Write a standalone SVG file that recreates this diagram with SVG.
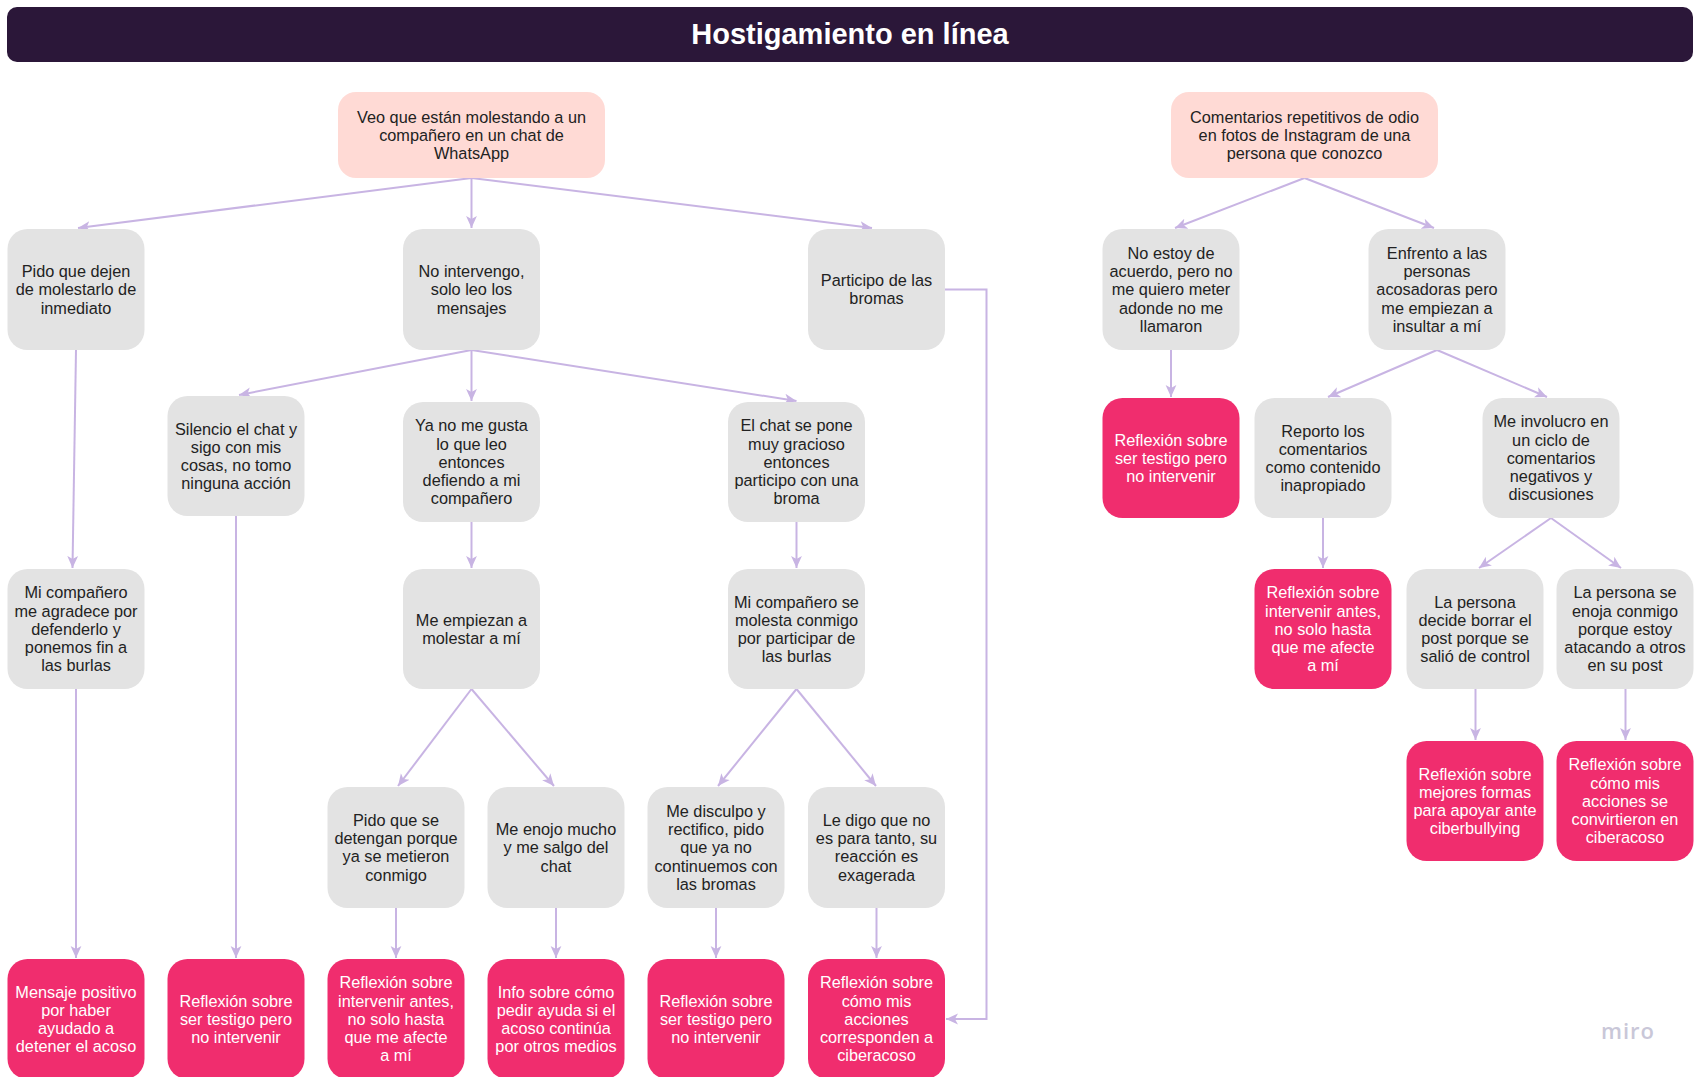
<svg xmlns="http://www.w3.org/2000/svg" width="1701" height="1077" viewBox="0 0 1701 1077">
  <defs>
    <marker id="arrow" markerUnits="userSpaceOnUse" markerWidth="12" markerHeight="12" viewBox="0 0 10 10" refX="10" refY="5" orient="auto">
      <path d="M0,0.5 L10,5 L0,9.5 L2.6,5 Z" fill="#C8B4E3"/>
    </marker>
  </defs>
  <style>
    .title { font-family: "Liberation Sans", Arial, sans-serif; font-size: 29px; font-weight: bold; fill: #ffffff; text-anchor: middle; }
    .lbl { font-family: "Liberation Sans", Arial, sans-serif; font-size: 16.3px; text-anchor: middle; fill: #222222; }
    .lbl-w { font-family: "Liberation Sans", Arial, sans-serif; font-size: 16.3px; text-anchor: middle; fill: #ffffff; }
    .start { fill: #FFDAD5; }
    .step { fill: #E3E3E3; }
    .result { fill: #F02D6E; }
    .conn { fill: none; stroke: #C8B4E3; stroke-width: 2; marker-end: url(#arrow); }
    .conn-plain { fill: none; stroke: #C8B4E3; stroke-width: 2; }
    .brand { font-family: "Open Sans", "Noto Sans", sans-serif; font-size: 22px; font-weight: 600; fill: #C9C7D8; letter-spacing: 1px; }
  </style>

  <rect width="1701" height="1077" fill="#ffffff"/>

  <!-- Title bar -->
  <g id="header">
    <rect x="7" y="7" width="1686" height="55" rx="10" fill="#2B1739"/>
    <text class="title" x="850" y="44">Hostigamiento en línea</text>
  </g>

  <!-- Connectors -->
  <g id="connectors">
    <!-- WhatsApp branch -->
    <line class="conn" x1="471.5" y1="178" x2="78" y2="228"/>
    <line class="conn" x1="471.5" y1="178" x2="471.5" y2="228"/>
    <line class="conn" x1="471.5" y1="178" x2="872" y2="228"/>
    <path class="conn" d="M945,289.5 H986.5 V1019 H946"/>
    <line class="conn" x1="76" y1="350" x2="72.5" y2="568"/>
    <line class="conn" x1="76" y1="689" x2="76" y2="958"/>
    <line class="conn" x1="471.5" y1="350" x2="239" y2="395"/>
    <line class="conn" x1="471.5" y1="350" x2="471.5" y2="401"/>
    <line class="conn" x1="471.5" y1="350" x2="796.5" y2="401"/>
    <line class="conn" x1="236" y1="516" x2="236" y2="958"/>
    <line class="conn" x1="471.5" y1="522" x2="471.5" y2="568"/>
    <line class="conn" x1="471.5" y1="689" x2="398" y2="786"/>
    <line class="conn" x1="471.5" y1="689" x2="554" y2="786"/>
    <line class="conn" x1="396" y1="908" x2="396" y2="958"/>
    <line class="conn" x1="556" y1="908" x2="556" y2="958"/>
    <line class="conn" x1="796.5" y1="522" x2="796.5" y2="568"/>
    <line class="conn" x1="796.5" y1="689" x2="718" y2="786"/>
    <line class="conn" x1="796.5" y1="689" x2="876" y2="786"/>
    <line class="conn" x1="716" y1="908" x2="716" y2="958"/>
    <line class="conn" x1="876.5" y1="908" x2="876.5" y2="958"/>
    <!-- Instagram branch -->
    <line class="conn" x1="1304.5" y1="178" x2="1175" y2="228"/>
    <line class="conn" x1="1304.5" y1="178" x2="1434" y2="228"/>
    <line class="conn" x1="1171" y1="350" x2="1171" y2="397"/>
    <line class="conn" x1="1437" y1="350" x2="1328" y2="397"/>
    <line class="conn" x1="1437" y1="350" x2="1547" y2="397"/>
    <line class="conn" x1="1323" y1="518" x2="1323" y2="568"/>
    <line class="conn" x1="1551" y1="518" x2="1479" y2="568"/>
    <line class="conn" x1="1551" y1="518" x2="1621" y2="568"/>
    <line class="conn" x1="1475.5" y1="689" x2="1475.5" y2="740"/>
    <line class="conn" x1="1625.5" y1="689" x2="1625.5" y2="740"/>
  </g>

  <!-- WhatsApp scenario -->
  <g id="n-veo">
    <rect class="start" x="338" y="92" width="267" height="86" rx="18"/>
    <text class="lbl" x="471.5" y="122.6"><tspan x="471.5">Veo que están molestando a un</tspan><tspan x="471.5" dy="18.2">compañero en un chat de</tspan><tspan x="471.5" dy="18.2">WhatsApp</tspan></text>
  </g>
  <g id="n-pido-dejen">
    <rect class="step" x="7.5" y="229" width="137" height="121" rx="20"/>
    <text class="lbl" x="76" y="277.1"><tspan x="76">Pido que dejen</tspan><tspan x="76" dy="18.2">de molestarlo de</tspan><tspan x="76" dy="18.2">inmediato</tspan></text>
  </g>
  <g id="n-no-intervengo">
    <rect class="step" x="403" y="229" width="137" height="121" rx="20"/>
    <text class="lbl" x="471.5" y="277.1"><tspan x="471.5">No intervengo,</tspan><tspan x="471.5" dy="18.2">solo leo los</tspan><tspan x="471.5" dy="18.2">mensajes</tspan></text>
  </g>
  <g id="n-participo">
    <rect class="step" x="808" y="229" width="137" height="121" rx="20"/>
    <text class="lbl" x="876.5" y="286.2"><tspan x="876.5">Participo de las</tspan><tspan x="876.5" dy="18.2">bromas</tspan></text>
  </g>
  <g id="n-silencio">
    <rect class="step" x="167.5" y="396" width="137" height="120" rx="20"/>
    <text class="lbl" x="236" y="434.5"><tspan x="236">Silencio el chat y</tspan><tspan x="236" dy="18.2">sigo con mis</tspan><tspan x="236" dy="18.2">cosas, no tomo</tspan><tspan x="236" dy="18.2">ninguna acción</tspan></text>
  </g>
  <g id="n-ya-no">
    <rect class="step" x="403" y="402" width="137" height="120" rx="20"/>
    <text class="lbl" x="471.5" y="431.4"><tspan x="471.5">Ya no me gusta</tspan><tspan x="471.5" dy="18.2">lo que leo</tspan><tspan x="471.5" dy="18.2">entonces</tspan><tspan x="471.5" dy="18.2">defiendo a mi</tspan><tspan x="471.5" dy="18.2">compañero</tspan></text>
  </g>
  <g id="n-el-chat">
    <rect class="step" x="728" y="402" width="137" height="120" rx="20"/>
    <text class="lbl" x="796.5" y="431.4"><tspan x="796.5">El chat se pone</tspan><tspan x="796.5" dy="18.2">muy gracioso</tspan><tspan x="796.5" dy="18.2">entonces</tspan><tspan x="796.5" dy="18.2">participo con una</tspan><tspan x="796.5" dy="18.2">broma</tspan></text>
  </g>
  <g id="n-agradece">
    <rect class="step" x="7.5" y="569" width="137" height="120" rx="20"/>
    <text class="lbl" x="76" y="598.4"><tspan x="76">Mi compañero</tspan><tspan x="76" dy="18.2">me agradece por</tspan><tspan x="76" dy="18.2">defenderlo y</tspan><tspan x="76" dy="18.2">ponemos fin a</tspan><tspan x="76" dy="18.2">las burlas</tspan></text>
  </g>
  <g id="n-empiezan">
    <rect class="step" x="403" y="569" width="137" height="120" rx="20"/>
    <text class="lbl" x="471.5" y="625.7"><tspan x="471.5">Me empiezan a</tspan><tspan x="471.5" dy="18.2">molestar a mí</tspan></text>
  </g>
  <g id="n-se-molesta">
    <rect class="step" x="728" y="569" width="137" height="120" rx="20"/>
    <text class="lbl" x="796.5" y="607.5"><tspan x="796.5">Mi compañero se</tspan><tspan x="796.5" dy="18.2">molesta conmigo</tspan><tspan x="796.5" dy="18.2">por participar de</tspan><tspan x="796.5" dy="18.2">las burlas</tspan></text>
  </g>
  <g id="n-pido-detengan">
    <rect class="step" x="327.5" y="787" width="137" height="121" rx="20"/>
    <text class="lbl" x="396" y="826"><tspan x="396">Pido que se</tspan><tspan x="396" dy="18.2">detengan porque</tspan><tspan x="396" dy="18.2">ya se metieron</tspan><tspan x="396" dy="18.2">conmigo</tspan></text>
  </g>
  <g id="n-enojo">
    <rect class="step" x="487.5" y="787" width="137" height="121" rx="20"/>
    <text class="lbl" x="556" y="835.1"><tspan x="556">Me enojo mucho</tspan><tspan x="556" dy="18.2">y me salgo del</tspan><tspan x="556" dy="18.2">chat</tspan></text>
  </g>
  <g id="n-disculpo">
    <rect class="step" x="647.5" y="787" width="137" height="121" rx="20"/>
    <text class="lbl" x="716" y="816.9"><tspan x="716">Me disculpo y</tspan><tspan x="716" dy="18.2">rectifico, pido</tspan><tspan x="716" dy="18.2">que ya no</tspan><tspan x="716" dy="18.2">continuemos con</tspan><tspan x="716" dy="18.2">las bromas</tspan></text>
  </g>
  <g id="n-le-digo">
    <rect class="step" x="808" y="787" width="137" height="121" rx="20"/>
    <text class="lbl" x="876.5" y="826"><tspan x="876.5">Le digo que no</tspan><tspan x="876.5" dy="18.2">es para tanto, su</tspan><tspan x="876.5" dy="18.2">reacción es</tspan><tspan x="876.5" dy="18.2">exagerada</tspan></text>
  </g>
  <g id="r-mensaje-positivo">
    <rect class="result" x="7.5" y="959" width="137" height="120" rx="20"/>
    <text class="lbl-w" x="76" y="997.5"><tspan x="76">Mensaje positivo</tspan><tspan x="76" dy="18.2">por haber</tspan><tspan x="76" dy="18.2">ayudado a</tspan><tspan x="76" dy="18.2">detener el acoso</tspan></text>
  </g>
  <g id="r-testigo-1">
    <rect class="result" x="167.5" y="959" width="137" height="120" rx="20"/>
    <text class="lbl-w" x="236" y="1006.6"><tspan x="236">Reflexión sobre</tspan><tspan x="236" dy="18.2">ser testigo pero</tspan><tspan x="236" dy="18.2">no intervenir</tspan></text>
  </g>
  <g id="r-intervenir-1">
    <rect class="result" x="327.5" y="959" width="137" height="120" rx="20"/>
    <text class="lbl-w" x="396" y="988.4"><tspan x="396">Reflexión sobre</tspan><tspan x="396" dy="18.2">intervenir antes,</tspan><tspan x="396" dy="18.2">no solo hasta</tspan><tspan x="396" dy="18.2">que me afecte</tspan><tspan x="396" dy="18.2">a mí</tspan></text>
  </g>
  <g id="r-info-ayuda">
    <rect class="result" x="487.5" y="959" width="137" height="120" rx="20"/>
    <text class="lbl-w" x="556" y="997.5"><tspan x="556">Info sobre cómo</tspan><tspan x="556" dy="18.2">pedir ayuda si el</tspan><tspan x="556" dy="18.2">acoso continúa</tspan><tspan x="556" dy="18.2">por otros medios</tspan></text>
  </g>
  <g id="r-testigo-2">
    <rect class="result" x="647.5" y="959" width="137" height="120" rx="20"/>
    <text class="lbl-w" x="716" y="1006.6"><tspan x="716">Reflexión sobre</tspan><tspan x="716" dy="18.2">ser testigo pero</tspan><tspan x="716" dy="18.2">no intervenir</tspan></text>
  </g>
  <g id="r-ciberacoso-1">
    <rect class="result" x="808" y="959" width="137" height="120" rx="20"/>
    <text class="lbl-w" x="876.5" y="988.4"><tspan x="876.5">Reflexión sobre</tspan><tspan x="876.5" dy="18.2">cómo mis</tspan><tspan x="876.5" dy="18.2">acciones</tspan><tspan x="876.5" dy="18.2">corresponden a</tspan><tspan x="876.5" dy="18.2">ciberacoso</tspan></text>
  </g>

  <!-- Instagram scenario -->
  <g id="n-comentarios">
    <rect class="start" x="1171" y="92" width="267" height="86" rx="18"/>
    <text class="lbl" x="1304.5" y="122.6"><tspan x="1304.5">Comentarios repetitivos de odio</tspan><tspan x="1304.5" dy="18.2">en fotos de Instagram de una</tspan><tspan x="1304.5" dy="18.2">persona que conozco</tspan></text>
  </g>
  <g id="n-no-estoy">
    <rect class="step" x="1102.5" y="229" width="137" height="121" rx="20"/>
    <text class="lbl" x="1171" y="258.9"><tspan x="1171">No estoy de</tspan><tspan x="1171" dy="18.2">acuerdo, pero no</tspan><tspan x="1171" dy="18.2">me quiero meter</tspan><tspan x="1171" dy="18.2">adonde no me</tspan><tspan x="1171" dy="18.2">llamaron</tspan></text>
  </g>
  <g id="n-enfrento">
    <rect class="step" x="1368.5" y="229" width="137" height="121" rx="20"/>
    <text class="lbl" x="1437" y="258.9"><tspan x="1437">Enfrento a las</tspan><tspan x="1437" dy="18.2">personas</tspan><tspan x="1437" dy="18.2">acosadoras pero</tspan><tspan x="1437" dy="18.2">me empiezan a</tspan><tspan x="1437" dy="18.2">insultar a mí</tspan></text>
  </g>
  <g id="r-testigo-3">
    <rect class="result" x="1102.5" y="398" width="137" height="120" rx="20"/>
    <text class="lbl-w" x="1171" y="445.6"><tspan x="1171">Reflexión sobre</tspan><tspan x="1171" dy="18.2">ser testigo pero</tspan><tspan x="1171" dy="18.2">no intervenir</tspan></text>
  </g>
  <g id="n-reporto">
    <rect class="step" x="1254.5" y="398" width="137" height="120" rx="20"/>
    <text class="lbl" x="1323" y="436.5"><tspan x="1323">Reporto los</tspan><tspan x="1323" dy="18.2">comentarios</tspan><tspan x="1323" dy="18.2">como contenido</tspan><tspan x="1323" dy="18.2">inapropiado</tspan></text>
  </g>
  <g id="n-involucro">
    <rect class="step" x="1482.5" y="398" width="137" height="120" rx="20"/>
    <text class="lbl" x="1551" y="427.4"><tspan x="1551">Me involucro en</tspan><tspan x="1551" dy="18.2">un ciclo de</tspan><tspan x="1551" dy="18.2">comentarios</tspan><tspan x="1551" dy="18.2">negativos y</tspan><tspan x="1551" dy="18.2">discusiones</tspan></text>
  </g>
  <g id="r-intervenir-2">
    <rect class="result" x="1254.5" y="569" width="137" height="120" rx="20"/>
    <text class="lbl-w" x="1323" y="598.4"><tspan x="1323">Reflexión sobre</tspan><tspan x="1323" dy="18.2">intervenir antes,</tspan><tspan x="1323" dy="18.2">no solo hasta</tspan><tspan x="1323" dy="18.2">que me afecte</tspan><tspan x="1323" dy="18.2">a mí</tspan></text>
  </g>
  <g id="n-borrar-post">
    <rect class="step" x="1406.5" y="569" width="137" height="120" rx="20"/>
    <text class="lbl" x="1475" y="607.5"><tspan x="1475">La persona</tspan><tspan x="1475" dy="18.2">decide borrar el</tspan><tspan x="1475" dy="18.2">post porque se</tspan><tspan x="1475" dy="18.2">salió de control</tspan></text>
  </g>
  <g id="n-se-enoja">
    <rect class="step" x="1556.5" y="569" width="137" height="120" rx="20"/>
    <text class="lbl" x="1625" y="598.4"><tspan x="1625">La persona se</tspan><tspan x="1625" dy="18.2">enoja conmigo</tspan><tspan x="1625" dy="18.2">porque estoy</tspan><tspan x="1625" dy="18.2">atacando a otros</tspan><tspan x="1625" dy="18.2">en su post</tspan></text>
  </g>
  <g id="r-mejores-formas">
    <rect class="result" x="1406.5" y="741" width="137" height="120" rx="20"/>
    <text class="lbl-w" x="1475" y="779.5"><tspan x="1475">Reflexión sobre</tspan><tspan x="1475" dy="18.2">mejores formas</tspan><tspan x="1475" dy="18.2">para apoyar ante</tspan><tspan x="1475" dy="18.2">ciberbullying</tspan></text>
  </g>
  <g id="r-ciberacoso-2">
    <rect class="result" x="1556.5" y="741" width="137" height="120" rx="20"/>
    <text class="lbl-w" x="1625" y="770.4"><tspan x="1625">Reflexión sobre</tspan><tspan x="1625" dy="18.2">cómo mis</tspan><tspan x="1625" dy="18.2">acciones se</tspan><tspan x="1625" dy="18.2">convirtieron en</tspan><tspan x="1625" dy="18.2">ciberacoso</tspan></text>
  </g>

  <!-- Board watermark -->
  <text class="brand" x="1601" y="1039">miro</text>
</svg>
